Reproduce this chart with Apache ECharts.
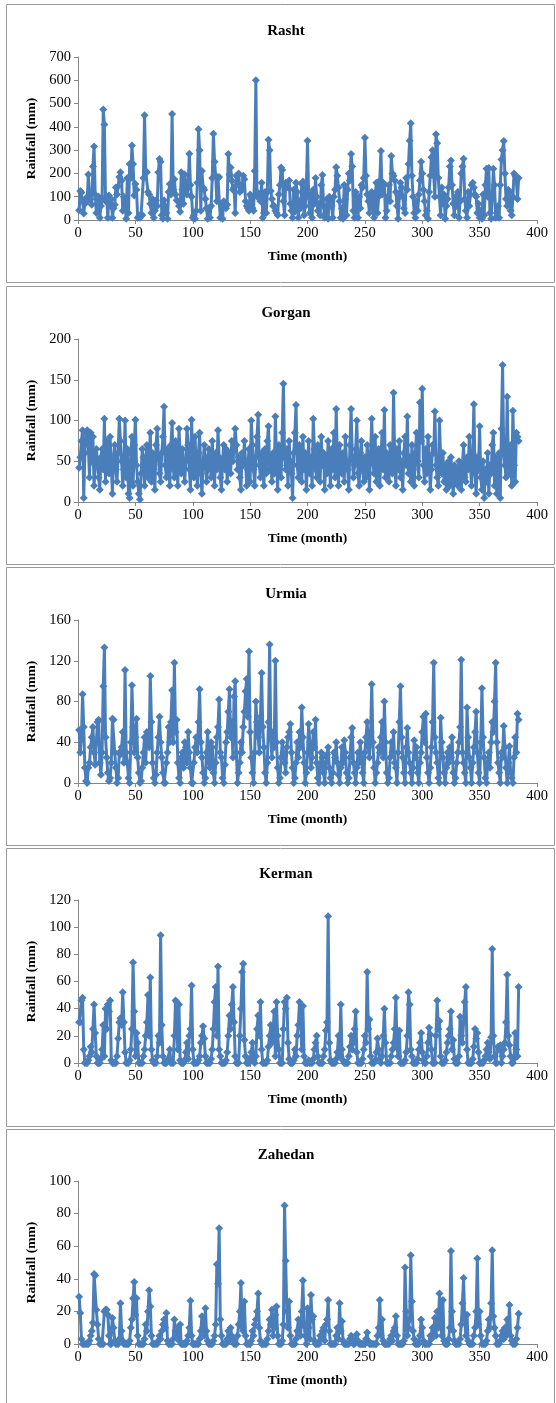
<!DOCTYPE html>
<html>
<head>
<meta charset="utf-8">
<script src="https://cdn.jsdelivr.net/npm/echarts@6/dist/echarts.min.js"></script>
<style>
html, body { margin: 0; padding: 0; background: #fff; }
#chart { width: 556px; height: 1403px; }
</style>
</head>
<body>
<div id="chart"></div>
<script>
// monthly rainfall (mm), month 1..384
var rasht = [
  42, 125, 118, 85, 28, 70, 95, 80, 195, 110,
  90, 65, 230, 316, 110, 30, 70, 100, 10, 60,
  95, 475, 410, 80, 95, 10, 105, 60, 90, 10,
  50, 65, 140, 110, 145, 185, 205, 170, 40, 100,
  75, 5, 180, 30, 240, 180, 320, 240, 105, 155,
  130, 10, 15, 10, 25, 20, 180, 450, 210, 205,
  120, 110, 70, 30, 90, 10, 40, 85, 60, 205,
  262, 250, 20, 5, 85, 60, 30, 5, 120, 155,
  110, 455, 130, 175, 110, 85, 80, 60, 35, 205,
  130, 70, 195, 160, 110, 140, 285, 150, 100, 10,
  20, 5, 40, 160, 390, 300, 40, 210, 140, 130,
  90, 50, 5, 50, 10, 60, 180, 370, 250, 190,
  80, 180, 185, 10, 70, 5, 80, 60, 50, 65,
  283, 195, 225, 170, 130, 140, 30, 190, 160, 200,
  120, 150, 130, 190, 175, 80, 60, 50, 40, 110,
  100, 50, 40, 210, 600, 100, 115, 110, 80, 160,
  10, 30, 120, 30, 120, 345, 300, 125, 90, 60,
  60, 40, 30, 20, 110, 150, 225, 215, 80, 20,
  160, 150, 140, 170, 70, 40, 10, 130, 35, 160,
  120, 10, 80, 50, 155, 165, 20, 60, 140, 340,
  100, 30, 110, 10, 130, 70, 180, 100, 40, 70,
  20, 150, 193, 60, 10, 30, 90, 5, 100, 90,
  60, 10, 100, 130, 227, 190, 140, 80, 10, 50,
  5, 150, 90, 20, 130, 200, 170, 283, 230, 40,
  10, 120, 90, 10, 100, 50, 150, 140, 180, 353,
  190, 110, 80, 30, 100, 120, 50, 10, 110, 160,
  30, 100, 170, 296, 110, 160, 150, 10, 40, 100,
  150, 80, 275, 200, 190, 170, 120, 60, 5, 100,
  160, 140, 100, 50, 30, 180, 130, 240, 340, 415,
  190, 100, 30, 10, 80, 40, 110, 170, 250, 200,
  130, 80, 20, 40, 5, 120, 190, 270, 300, 190,
  100, 368, 330, 180, 100, 20, 140, 70, 110, 5,
  60, 90, 140, 230, 256, 150, 70, 20, 100, 60,
  120, 10, 80, 200, 230, 263, 90, 40, 10, 120,
  60, 110, 150, 160, 140, 110, 100, 30, 70, 10,
  40, 5, 110, 20, 150, 220, 100, 223, 30, 5,
  100, 220, 150, 10, 30, 60, 10, 150, 260, 300,
  339, 200, 90, 60, 130, 120, 40, 20, 100, 200,
  190, 170, 90, 180
];
var gorgan = [
  42, 55, 75, 88, 5, 60, 85, 88, 70, 30,
  85, 50, 80, 20, 45, 65, 50, 30, 15, 55,
  65, 40, 102, 25, 75, 60, 35, 80, 45, 10,
  55, 70, 40, 25, 60, 102, 75, 50, 20, 40,
  100, 30, 65, 10, 5, 60, 80, 20, 70, 101,
  45, 25, 10, 3, 35, 65, 55, 20, 45, 70,
  30, 50, 85, 25, 60, 40, 15, 70, 90, 55,
  35, 25, 60, 80, 117, 45, 30, 65, 55, 20,
  70, 97, 40, 30, 75, 50, 20, 90, 60, 35,
  65, 45, 25, 50, 90, 70, 40, 15, 101, 55,
  30, 80, 45, 20, 60, 85, 35, 10, 45, 70,
  55, 25, 40, 65, 50, 30, 75, 45, 20, 60,
  40, 88, 55, 30, 15, 50, 70, 40, 65, 25,
  45, 60, 35, 75, 50, 65, 90, 70, 40, 55,
  30, 15, 60, 45, 75, 50, 20, 40, 65, 25,
  100, 70, 40, 20, 55, 80, 107, 45, 30, 60,
  50, 20, 65, 35, 75, 93, 40, 55, 25, 60,
  35, 105, 50, 15, 70, 45, 30, 85, 145, 55,
  40, 65, 20, 75, 50, 35, 5, 60, 85, 119,
  45, 30, 70, 55, 25, 80, 40, 60, 15, 45,
  75, 35, 55, 20, 102, 65, 40, 30, 70, 50,
  25, 80, 45, 60, 15, 55, 35, 75, 50, 20,
  65, 40, 85, 30, 114, 55, 20, 70, 45, 35,
  60, 25, 80, 50, 40, 15, 70, 114, 55, 30,
  45, 65, 100, 35, 20, 60, 75, 40, 25, 55,
  30, 70, 45, 15, 60, 102, 50, 35, 80, 25,
  45, 65, 20, 55, 85, 40, 113, 30, 60, 50,
  25, 70, 45, 35, 134, 55, 20, 65, 40, 75,
  30, 50, 15, 60, 80, 45, 105, 35, 55, 25,
  70, 40, 20, 60, 85, 50, 30, 122, 75, 139,
  45, 25, 65, 35, 80, 55, 15, 40, 70, 60,
  111, 45, 30, 20, 100, 55, 35, 60, 25, 45,
  15, 35, 50, 20, 55, 30, 10, 45, 25, 40,
  20, 50, 35, 15, 45, 70, 30, 25, 55, 40,
  80, 45, 20, 60, 120, 35, 10, 55, 40, 93,
  30, 15, 50, 5, 40, 25, 60, 10, 45, 35,
  70, 85, 20, 55, 10, 40, 60, 5, 90, 168,
  60, 45, 30, 129, 50, 35, 70, 20, 112, 45,
  25, 85, 80, 75
];
var urmia = [
  52, 30, 45, 87, 55, 15, 2, 0, 15, 20,
  35, 45, 55, 30, 18, 40, 60, 62, 20, 8,
  30, 95, 133, 45, 25, 10, 2, 5, 20, 63,
  62, 30, 15, 0, 5, 30, 28, 35, 50, 20,
  111, 30, 20, 5, 0, 40, 96, 55, 30, 45,
  63, 25, 10, 0, 2, 15, 30, 45, 20, 50,
  48, 35, 105, 60, 20, 5, 0, 8, 30, 45,
  65, 40, 25, 10, 0, 0, 20, 30, 55, 40,
  60, 91, 40, 118, 50, 62, 20, 5, 0, 25,
  30, 15, 40, 35, 20, 50, 30, 15, 0, 0,
  20, 35, 45, 30, 60, 92, 40, 25, 10, 0,
  5, 30, 50, 20, 15, 40, 35, 10, 0, 20,
  45, 55, 82, 30, 25, 5, 0, 18, 40, 50,
  70, 92, 45, 60, 25, 85, 100, 30, 0, 10,
  20, 40, 30, 55, 70, 90, 102, 65, 129, 50,
  25, 10, 0, 30, 80, 60, 45, 30, 65, 108,
  55, 35, 10, 0, 20, 60, 136, 45, 25, 50,
  35, 120, 40, 15, 0, 5, 25, 40, 30, 20,
  10, 35, 45, 50, 58, 30, 15, 0, 5, 20,
  40, 25, 50, 35, 74, 45, 20, 0, 10, 30,
  58, 40, 15, 25, 50, 35, 62, 20, 5, 0,
  15, 30, 25, 10, 0, 20, 28, 35, 15, 5,
  0, 10, 30, 25, 40, 20, 8, 0, 15, 35,
  20, 42, 30, 10, 0, 5, 25, 45, 54, 20,
  10, 0, 15, 30, 20, 40, 25, 10, 0, 30,
  45, 60, 35, 25, 50, 97, 40, 15, 0, 10,
  20, 35, 30, 45, 60, 25, 80, 40, 10, 0,
  5, 25, 40, 30, 50, 20, 15, 0, 30, 60,
  95, 45, 25, 10, 0, 35, 54, 30, 20, 10,
  0, 15, 42, 25, 35, 10, 0, 20, 30, 50,
  65, 40, 68, 25, 10, 0, 15, 35, 60, 118,
  45, 30, 20, 5, 0, 64, 40, 25, 10, 0,
  15, 30, 20, 35, 25, 45, 10, 0, 5, 20,
  30, 40, 55, 121, 30, 20, 10, 0, 74, 45,
  25, 15, 0, 20, 35, 50, 70, 30, 10, 0,
  40, 93, 45, 25, 5, 0, 20, 30, 15, 40,
  60, 50, 80, 118, 40, 20, 10, 0, 30, 25,
  56, 35, 15, 0, 20, 36, 10, 5, 0, 25,
  45, 30, 68, 62
];
var kerman = [
  30, 30, 46, 48, 10, 0, 0, 0, 2, 5,
  12, 8, 25, 43, 22, 5, 0, 0, 0, 3,
  10, 28, 5, 40, 25, 43, 38, 46, 2, 0,
  0, 0, 0, 5, 18, 30, 33, 28, 52, 30,
  8, 0, 0, 0, 2, 10, 25, 74, 38, 5,
  22, 15, 0, 0, 0, 0, 5, 10, 20, 30,
  50, 20, 63, 10, 2, 0, 0, 0, 5, 20,
  15, 94, 28, 5, 0, 0, 0, 2, 3, 10,
  0, 0, 0, 20, 46, 45, 10, 43, 2, 0,
  0, 0, 2, 8, 15, 3, 20, 25, 57, 10,
  0, 0, 0, 0, 2, 5, 15, 20, 27, 18,
  5, 0, 0, 0, 0, 3, 10, 25, 45, 56,
  20, 71, 10, 5, 0, 0, 0, 0, 2, 8,
  20, 35, 25, 43, 56, 30, 5, 0, 0, 0,
  20, 40, 67, 73, 17, 5, 0, 0, 0, 3,
  8, 15, 2, 0, 5, 25, 35, 20, 45, 10,
  0, 0, 0, 0, 2, 12, 20, 28, 15, 24,
  38, 5, 45, 20, 10, 0, 0, 0, 25, 45,
  40, 48, 15, 3, 0, 0, 0, 2, 10, 5,
  20, 28, 45, 30, 10, 42, 5, 0, 0, 0,
  2, 0, 0, 0, 3, 10, 15, 20, 5, 0,
  0, 0, 0, 5, 10, 24, 30, 108, 15, 2,
  0, 0, 0, 0, 3, 8, 20, 5, 43, 10,
  2, 0, 0, 0, 0, 5, 12, 20, 10, 15,
  25, 38, 8, 0, 0, 0, 0, 3, 10, 20,
  15, 67, 25, 32, 5, 0, 0, 0, 2, 8,
  18, 10, 3, 0, 5, 20, 40, 15, 0, 0,
  0, 0, 5, 10, 15, 25, 48, 12, 5, 24,
  0, 0, 0, 0, 2, 8, 20, 52, 43, 10,
  5, 0, 0, 0, 0, 3, 10, 15, 22, 8,
  2, 0, 0, 5, 15, 26, 21, 10, 0, 0,
  0, 20, 46, 25, 31, 5, 0, 0, 0, 2,
  8, 15, 20, 25, 38, 10, 17, 3, 0, 0,
  0, 5, 34, 20, 15, 30, 45, 56, 10, 0,
  0, 0, 0, 3, 12, 25, 18, 22, 8, 0,
  0, 0, 0, 2, 5, 10, 15, 8, 3, 19,
  84, 20, 5, 0, 0, 12, 10, 13, 0, 5,
  10, 15, 30, 65, 20, 13, 5, 0, 0, 3,
  22, 10, 5, 56
];
var zahedan = [
  29, 19, 3, 0, 0, 0, 0, 0, 0, 2,
  5, 8, 13, 43, 42, 21, 12, 3, 0, 0,
  0, 0, 20, 21, 21, 18, 5, 0, 0, 16,
  10, 2, 0, 0, 0, 3, 25, 8, 2, 0,
  0, 0, 0, 0, 2, 10, 15, 28, 38, 18,
  28, 5, 0, 0, 0, 0, 0, 3, 12, 8,
  20, 33, 23, 5, 0, 0, 0, 0, 0, 2,
  5, 3, 8, 12, 15, 10, 19, 2, 0, 0,
  0, 0, 3, 15, 8, 5, 10, 2, 12, 0,
  0, 0, 0, 0, 2, 5, 10, 26.5, 5, 0,
  0, 0, 0, 0, 0, 3, 8, 17, 10, 5,
  22, 8, 2, 0, 0, 0, 0, 2, 5, 12,
  49, 37, 71, 15, 5, 0, 0, 0, 0, 3,
  8, 2, 10, 5, 3, 0, 0, 0, 5, 12,
  20, 37.5, 10, 8, 26, 5, 0, 0, 0, 0,
  2, 8, 5, 12, 15, 20, 31, 10, 2, 0,
  0, 0, 0, 0, 3, 8, 15, 12, 21, 5,
  10, 18, 23, 5, 0, 0, 0, 2, 12, 85,
  51, 20, 10, 26, 5, 0, 0, 0, 0, 3,
  8, 15, 10, 5, 20, 39, 12, 5, 0, 22,
  10, 3, 30, 15, 17, 2, 0, 0, 0, 0,
  5, 3, 8, 10, 2, 12, 15, 27, 8, 0,
  0, 0, 0, 0, 5, 10, 3, 25, 8, 14,
  2, 0, 0, 0, 0, 0, 3, 5, 2, 0,
  0, 3, 6, 2, 0, 0, 0, 0, 0, 0,
  3, 7, 2, 0, 0, 0, 0, 0, 0, 0,
  5, 10, 27, 5, 15, 2, 0, 0, 0, 0,
  0, 3, 5, 2, 8, 10, 17, 5, 0, 0,
  0, 0, 0, 2, 47, 20, 5, 10, 15, 54.5,
  26, 8, 3, 0, 0, 0, 0, 5, 15, 10,
  2, 0, 0, 0, 0, 0, 5, 3, 10, 8,
  16, 5, 20, 10, 31, 12, 5, 27, 2, 0,
  0, 0, 3, 10, 57, 20, 8, 2, 0, 0,
  0, 0, 3, 12, 25, 40.5, 15, 5, 18, 2,
  0, 0, 0, 0, 5, 10, 20, 52.5, 12, 20,
  5, 0, 0, 0, 0, 2, 8, 15, 10, 25,
  57.5, 17, 10, 5, 0, 0, 0, 2, 5, 8,
  3, 10, 5, 15, 8, 24, 5, 2, 0, 0,
  0, 3, 10, 18.5
];

var stations = ['Rasht', 'Gorgan', 'Urmia', 'Kerman', 'Zahedan'];
var seriesValues = [rasht, gorgan, urmia, kerman, zahedan];
var yMax = [700, 200, 160, 120, 100];
var yStep = [100, 50, 40, 20, 20];

var gridTops = [57, 339, 620, 900, 1181];
var boxTops = [4, 286, 567, 848, 1129];
var font = '"Liberation Serif", "Times New Roman", serif';
var axisGray = '#868686';

var chart = echarts.init(document.getElementById('chart'), null, { renderer: 'canvas' });

var grids = [], xAxes = [], yAxes = [], series = [], titles = [], boxes = [];
stations.forEach(function (name, k) {
  grids.push({ left: 78, right: 19, top: gridTops[k], height: 163 });
  titles.push({
    text: name, left: 281, top: gridTops[k] - 38, textAlign: 'center',
    textStyle: { fontFamily: font, fontSize: 15, fontWeight: 'bold', color: '#000' }
  });
  boxes.push({
    type: 'rect', silent: true,
    shape: { x: 6.5, y: boxTops[k] + 0.5, width: 548, height: 278 },
    style: { fill: null, stroke: '#9a9a9a', lineWidth: 1 }
  });
  xAxes.push({
    type: 'value', gridIndex: k, min: 0, max: 400, interval: 50,
    name: 'Time (month)', nameLocation: 'middle', nameGap: 30,
    nameTextStyle: { fontFamily: font, fontSize: 13.5, fontWeight: 'bold', color: '#000' },
    axisLine: { show: true, onZero: false, lineStyle: { color: axisGray, width: 1 } },
    axisTick: { show: true, length: 4, lineStyle: { color: axisGray } },
    axisLabel: { fontFamily: font, fontSize: 14.5, color: '#000', margin: 6 },
    splitLine: { show: false }
  });
  yAxes.push({
    type: 'value', gridIndex: k, min: 0, max: yMax[k], interval: yStep[k],
    name: 'Rainfall (mm)', nameLocation: 'middle', nameGap: 36,
    nameTextStyle: { fontFamily: font, fontSize: 13.5, fontWeight: 'bold', color: '#000' },
    axisLine: { show: true, lineStyle: { color: axisGray, width: 1 } },
    axisTick: { show: true, length: 4, lineStyle: { color: axisGray } },
    axisLabel: { fontFamily: font, fontSize: 14.5, color: '#000', margin: 7 },
    splitLine: { show: false }
  });
  series.push({
    type: 'line', xAxisIndex: k, yAxisIndex: k,
    data: seriesValues[k].map(function (v, i) { return [i + 1, v]; }),
    symbol: 'diamond', symbolSize: 8, showAllSymbol: true,
    lineStyle: { color: '#4A7EBB', width: 3 },
    itemStyle: { color: '#4A7EBB' },
    animation: false
  });
});

chart.setOption({
  backgroundColor: '#fff',
  animation: false,
  title: titles,
  grid: grids,
  xAxis: xAxes,
  yAxis: yAxes,
  series: series,
  graphic: boxes
});
</script>
</body>
</html>
